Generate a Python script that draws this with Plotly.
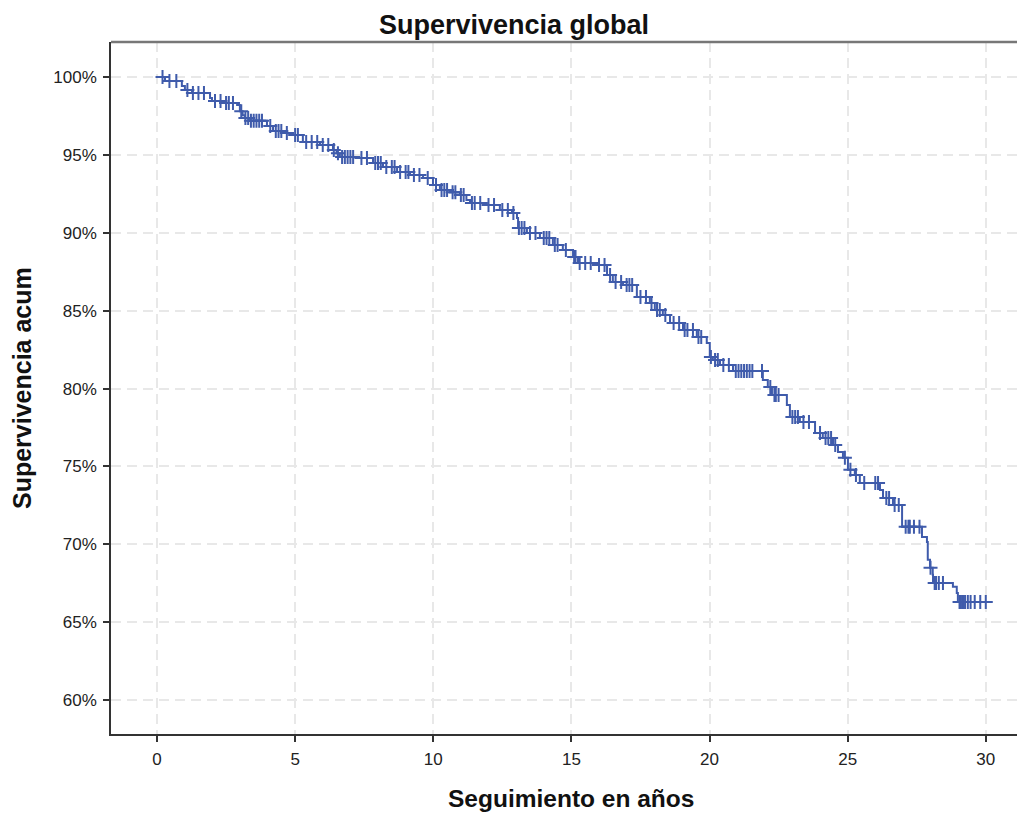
import plotly.graph_objects as go
import bisect

# Kaplan-Meier event times (years) and survival (%) after each event
event_times = [0.29, 0.9, 1.01, 1.27, 1.92, 1.99, 2.39, 2.9, 3.0, 3.1, 3.18, 3.37, 3.98, 4.2,
               4.56, 4.92, 5.28, 5.9, 6.37, 6.5, 6.62, 7.24, 7.82, 8.18, 8.69, 9.16, 9.63,
               9.99, 10.24, 10.6, 10.97, 11.2, 11.33, 11.94, 12.41, 12.85, 13.03, 13.07,
               13.39, 13.86, 14.33, 14.69, 15.06, 15.24, 15.93, 16.29, 16.5, 16.87, 17.37,
               17.84, 18.02, 18.31, 18.57, 19.04, 19.54, 19.9, 20.01, 20.12, 20.38, 20.85,
               21.93, 22.11, 22.26, 22.8, 22.91, 23.27, 23.82, 24.1, 24.47, 24.65, 24.83,
               25.01, 25.26, 25.44, 26.17, 26.28, 26.64, 26.97, 27.69, 27.87, 27.9, 27.98,
               28.08, 28.09, 28.81, 28.95, 28.99]
survival = [99.74, 99.42, 99.17, 98.97, 98.65, 98.46, 98.33, 98.2, 97.8, 97.55, 97.37, 97.2,
            96.85, 96.53, 96.4, 96.28, 95.83, 95.64, 95.31, 95.1, 94.87, 94.8, 94.48, 94.22,
            93.9, 93.71, 93.52, 93.07, 92.75, 92.6, 92.43, 92.1, 91.91, 91.78, 91.46, 91.27,
            90.95, 90.31, 89.99, 89.67, 89.22, 88.9, 88.45, 88.06, 87.93, 87.29, 86.84,
            86.65, 85.88, 85.49, 85.04, 84.72, 84.21, 83.76, 83.31, 82.93, 82.03, 81.84,
            81.51, 81.12, 80.55, 80.1, 79.59, 78.95, 78.18, 77.86, 77.15, 76.83, 76.38,
            75.93, 75.55, 74.78, 74.45, 73.94, 73.49, 72.98, 72.53, 71.12, 70.47, 70.15,
            69.0, 68.49, 68.04, 67.52, 67.27, 66.88, 66.3]
follow_end = 30.1

# Censored observation times (years)
censor_times = [0.2, 0.45, 0.7, 1.1, 1.3, 1.5, 1.7, 2.1, 2.3, 2.5, 2.6, 2.75, 3.05, 3.2, 3.3,
                3.4, 3.5, 3.6, 3.7, 3.8, 4.1, 4.3, 4.4, 4.5, 4.7, 5.0, 5.1, 5.4, 5.6, 5.8,
                6.0, 6.2, 6.4, 6.55, 6.7, 6.8, 6.9, 7.0, 7.1, 7.4, 7.6, 7.9, 8.0, 8.1, 8.3,
                8.5, 8.6, 8.8, 9.0, 9.1, 9.3, 9.5, 9.8, 10.1, 10.3, 10.4, 10.5, 10.7, 10.8,
                11.0, 11.1, 11.4, 11.5, 11.7, 12.0, 12.2, 12.5, 12.7, 12.9, 13.1, 13.2,
                13.3, 13.5, 13.7, 14.0, 14.1, 14.2, 14.4, 14.5, 14.8, 15.1, 15.15, 15.3,
                15.5, 15.7, 16.0, 16.2, 16.4, 16.6, 16.8, 17.0, 17.1, 17.2, 17.5, 17.7,
                17.9, 18.1, 18.2, 18.4, 18.7, 18.9, 19.1, 19.2, 19.4, 19.6, 19.7, 20.05,
                20.2, 20.3, 20.5, 20.7, 20.95, 21.05, 21.15, 21.25, 21.35, 21.45, 21.55,
                21.9, 22.2, 22.35, 22.4, 22.5, 23.0, 23.1, 23.2, 23.4, 23.6, 24.0, 24.2,
                24.3, 24.4, 24.55, 24.9, 25.1, 25.3, 25.6, 26.0, 26.1, 26.4, 26.5, 26.7,
                26.85, 27.1, 27.2, 27.25, 27.4, 27.6, 28.0, 28.15, 28.2, 28.3, 28.45,
                29.05, 29.1, 29.15, 29.2, 29.25, 29.35, 29.45, 29.6, 29.8, 30.0]

x_ticks = [0, 5, 10, 15, 20, 25, 30]
y_ticks = [60, 65, 70, 75, 80, 85, 90, 95, 100]
y_ticktext = [f"{v}%" for v in y_ticks]

BLUE = "#3f5bab"

# Step function
xs = [0.0] + event_times + [follow_end]
ys = [100.0] + survival + [survival[-1]]


def surv_at(t):
    i = bisect.bisect_right(event_times, t)
    return 100.0 if i == 0 else survival[i - 1]


cens_y = [surv_at(t) for t in censor_times]

fig = go.Figure()
fig.add_trace(go.Scatter(x=xs, y=ys, mode="lines", line=dict(color=BLUE, width=2, shape="hv"),
                         hoverinfo="skip", showlegend=False))
fig.add_trace(go.Scatter(x=censor_times, y=cens_y, mode="markers",
                         marker=dict(symbol="cross-thin", size=10, line=dict(color=BLUE, width=2)),
                         showlegend=False))

axis_common = dict(showline=True, linecolor="#333333", linewidth=1.5, ticks="outside", ticklen=6,
                   tickwidth=1.5, tickcolor="#333333", showgrid=True, gridcolor="#e8e8e8",
                   griddash="10px,6px", gridwidth=1.5, zeroline=False, ticklabelstandoff=3,
                   tickfont=dict(family="Liberation Sans, Arial", size=17, color="#222222"))

fig.update_layout(
    width=1019, height=814,
    margin=dict(l=111, r=2, t=42, b=80),
    paper_bgcolor="white", plot_bgcolor="white",
    xaxis=dict(range=[-1.665, 31.13], tickvals=x_ticks, **axis_common),
    yaxis=dict(range=[57.82, 102.25], tickvals=y_ticks, ticktext=y_ticktext, **axis_common),
    annotations=[
        dict(text="<b>Supervivencia global</b>", xref="paper", yref="paper", x=0.445, y=1.0246,
             xanchor="center", yanchor="middle", showarrow=False,
             font=dict(family="Liberation Sans, Arial", size=27, color="#111111")),
        dict(text="<b>Seguimiento en años</b>", xref="paper", yref="paper", x=0.508, y=-0.0925,
             xanchor="center", yanchor="middle", showarrow=False,
             font=dict(family="Liberation Sans, Arial", size=24.5, color="#111111")),
        dict(text="<b>Supervivencia acum</b>", xref="paper", yref="paper", x=-0.0982, y=0.5,
             xanchor="center", yanchor="middle", showarrow=False, textangle=-90,
             font=dict(family="Liberation Sans, Arial", size=25, color="#111111")),
    ],
    shapes=[dict(type="line", xref="paper", yref="paper", x0=0, x1=1, y0=1, y1=1,
                 line=dict(color="#777777", width=2.5))],
)

fig.write_html("out.html")
